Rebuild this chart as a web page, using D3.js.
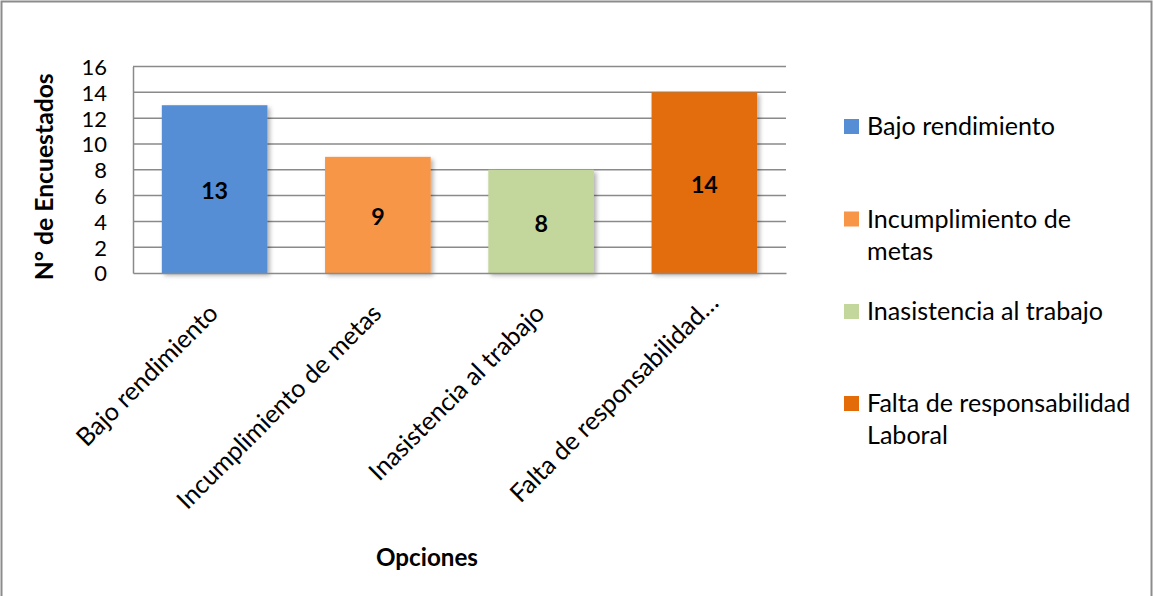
<!DOCTYPE html>
<html><head><meta charset="utf-8">
<script src="https://cdn.jsdelivr.net/npm/d3@7"></script>
<style>
html,body{margin:0;padding:0;background:#fff;}
svg{display:block;font-family:Lato, "Open Sans", sans-serif;}
</style></head>
<body>
<svg id="chart" width="1153" height="596"></svg>
<script>
const categories = ["Bajo rendimiento","Incumplimiento de metas","Inasistencia al trabajo","Falta de responsabilidad Laboral"];
const axisLabels = ["Bajo rendimiento","Incumplimiento de metas","Inasistencia al trabajo","Falta de responsabilidad…"];
const values = [13, 9, 8, 14];
const colors = ["#558ED5","#F79646","#C3D69B","#E36C09"];
const yTicks = [0,2,4,6,8,10,12,14,16];
const legendLines = [["Bajo rendimiento"],["Incumplimiento de","metas"],["Inasistencia al trabajo"],["Falta de responsabilidad","Laboral"]];
const yTitle = "N° de Encuestados";
const xTitle = "Opciones";

const svg = d3.select("#chart");
const font = 'Lato';

function fit(text, weight, target){
  const t = svg.append("text").attr("font-size",100).attr("font-weight",weight).text(text);
  const w = t.node().getComputedTextLength();
  t.remove();
  return 100*target/w;
}
const legendSize = fit("Bajo rendimiento","normal",188);
const tickSize = fit("16","normal",25.5);
const valSize = fit("13","bold",27);
const xTitleSize = fit(xTitle,"bold",102);
const yTitleSize = fit(yTitle,"bold",207);

// outer border
svg.append("rect").attr("x",1.5).attr("y",1.5).attr("width",1150).attr("height",620)
  .attr("fill","none").attr("stroke","#8c8c8c").attr("stroke-width",2);

const plot = {left:133, right:786, top:66.5, bottom:273};
const x = d3.scaleBand().domain(categories).range([plot.left, plot.right]).paddingInner(0.353).paddingOuter(0.1765);
const y = d3.scaleLinear().domain([0,16]).range([plot.bottom, plot.top]);

const defs = svg.append("defs");
const f = defs.append("filter").attr("id","sh").attr("x","-20%").attr("y","-20%").attr("width","140%").attr("height","140%");
f.append("feDropShadow").attr("dx",2.5).attr("dy",2.5).attr("stdDeviation",2).attr("flood-color","#000").attr("flood-opacity",0.3);

// gridlines
svg.append("g").selectAll("line").data(yTicks.filter(d=>d>0)).join("line")
  .attr("x1",plot.left).attr("x2",plot.right)
  .attr("y1",d=>y(d)).attr("y2",d=>y(d))
  .attr("stroke","#8a8a8a").attr("stroke-width",1.5);

// y axis
const yAxis = svg.append("g").attr("transform",`translate(${plot.left},0)`)
  .call(d3.axisLeft(y).tickValues(yTicks).tickSize(0).tickPadding(26));
yAxis.select(".domain").attr("stroke","#8a8a8a").attr("stroke-width",1.5);
yAxis.selectAll("text").attr("font-family",font).attr("font-size",tickSize).attr("fill","#000").attr("dy","0.36em");

// bars
svg.append("g").selectAll("rect").data(values).join("rect")
  .attr("x",(d,i)=>x(categories[i])).attr("width",x.bandwidth())
  .attr("y",d=>y(d)).attr("height",d=>y(0)-y(d))
  .attr("fill",(d,i)=>colors[i]).attr("filter","url(#sh)");

// x axis line
const xAxis = svg.append("g").attr("transform",`translate(0,${plot.bottom})`)
  .call(d3.axisBottom(x).tickSize(0).tickFormat((d,i)=>axisLabels[i]));
xAxis.select(".domain").attr("stroke","#8a8a8a").attr("stroke-width",1.5);
xAxis.selectAll("text")
  .attr("font-family",font).attr("font-size",legendSize).attr("fill","#000")
  .attr("text-anchor","end").attr("dy",null).attr("y",null)
  .attr("dx",(d,i)=>axisLabels[i].endsWith("…")?15:0)
  .attr("transform",(d)=>`translate(5,42) rotate(-45)`);

// value labels
svg.append("g").selectAll("text").data(values).join("text")
  .attr("x",(d,i)=>x(categories[i])+x.bandwidth()/2)
  .attr("y",d=>(y(d)+y(0))/2+2).attr("dy","0.36em")
  .attr("text-anchor","middle").attr("font-weight","bold").attr("font-size",valSize).attr("font-family",font)
  .text(d=>d);

// axis titles
svg.append("text").attr("transform",`translate(53,${(plot.top+plot.bottom)/2+7}) rotate(-90)`)
  .attr("text-anchor","middle").attr("font-weight","bold").attr("font-size",yTitleSize).attr("font-family",font).text(yTitle);
svg.append("text").attr("x",427).attr("y",566).attr("text-anchor","middle")
  .attr("font-weight","bold").attr("font-size",xTitleSize).attr("font-family",font).text(xTitle);

// legend
const legendY = [126.5, 219, 311.5, 403.5];
const lg = svg.append("g");
legendLines.forEach((lines,i)=>{
  lg.append("rect").attr("x",844).attr("y",legendY[i]-7.5).attr("width",15).attr("height",15).attr("fill",colors[i]);
  const t = lg.append("text").attr("x",867).attr("y",legendY[i]+8.5).attr("font-size",legendSize).attr("font-family",font);
  lines.forEach((ln,j)=>t.append("tspan").attr("x",867).attr("dy",j===0?0:32).text(ln));
});
</script>
</body></html>
